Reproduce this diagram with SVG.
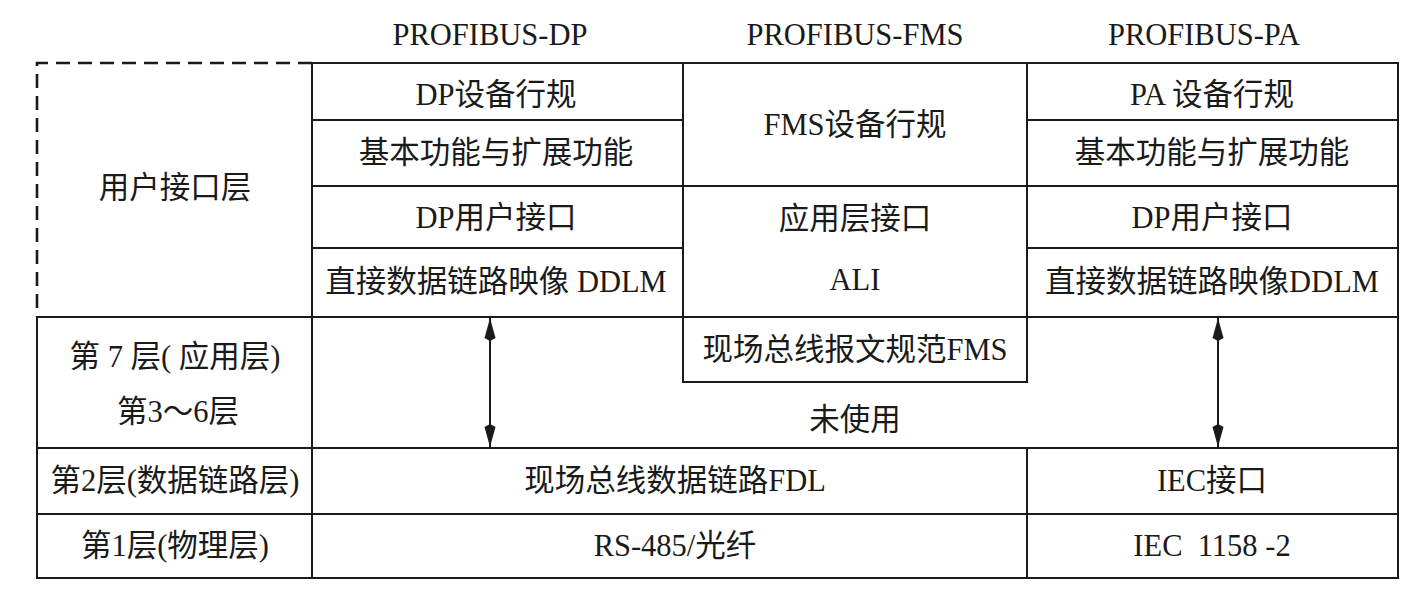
<svg xmlns="http://www.w3.org/2000/svg" width="1422" height="598" viewBox="0 0 1422 598">
<defs>
<style>
.c{fill:none;stroke:#1a1a1a;stroke-width:2}
.d{fill:none;stroke:#1a1a1a;stroke-width:2.6;stroke-dasharray:14 8}
text{font-family:"Liberation Serif","Noto Sans CJK SC",serif;font-size:30.5px;fill:#1a1a1a;text-anchor:middle;dominant-baseline:central}
.pre{white-space:pre}
.a{stroke:#1a1a1a;stroke-width:2;fill:none}
</style>
<marker id="ah" markerUnits="userSpaceOnUse" markerWidth="24" markerHeight="12" viewBox="0 0 24 12" refX="23" refY="6" orient="auto-start-reverse">
<path d="M0,6 L3,0.5 L23,6 L3,11.5 Z" fill="#1a1a1a"/>
</marker>
</defs>
<rect width="1422" height="598" fill="#fff"/>

<g id="hdr-dp"><text x="490" y="35">PROFIBUS-DP</text></g>
<g id="hdr-fms"><text x="855" y="35">PROFIBUS-FMS</text></g>
<g id="hdr-pa"><text x="1204" y="35">PROFIBUS-PA</text></g>

<g id="user-layer"><path class="d" d="M312,63 H37 V317"/><text x="175" y="188">用户接口层</text></g>

<g id="dp-profile"><rect class="c" x="312" y="63" width="371" height="57"/><text x="496" y="95">DP设备行规</text></g>
<g id="dp-basic"><rect class="c" x="312" y="120" width="371" height="66"/><text x="496" y="153">基本功能与扩展功能</text></g>
<g id="dp-ui"><rect class="c" x="312" y="186" width="371" height="62"/><text x="496" y="218">DP用户接口</text></g>
<g id="dp-ddlm"><rect class="c" x="312" y="248" width="371" height="69"/><text x="496" y="282">直接数据链路映像 DDLM</text></g>

<g id="fms-profile"><rect class="c" x="683" y="63" width="344" height="123"/><text x="855" y="125">FMS设备行规</text></g>
<g id="fms-ali"><rect class="c" x="683" y="186" width="344" height="131"/><text x="855" y="219">应用层接口</text><text x="855" y="280">ALI</text></g>

<g id="pa-profile"><rect class="c" x="1027" y="63" width="371" height="57"/><text x="1212" y="95">PA 设备行规</text></g>
<g id="pa-basic"><rect class="c" x="1027" y="120" width="371" height="66"/><text x="1212" y="153">基本功能与扩展功能</text></g>
<g id="pa-ui"><rect class="c" x="1027" y="186" width="371" height="62"/><text x="1212" y="218">DP用户接口</text></g>
<g id="pa-ddlm"><rect class="c" x="1027" y="248" width="371" height="69"/><text x="1212" y="282">直接数据链路映像DDLM</text></g>

<g id="l7-label"><rect class="c" x="37" y="317" width="275" height="131"/><text x="175" y="357">第 7 层( 应用层)</text><text x="178" y="412">第3～6层</text></g>
<g id="unused"><rect class="c" x="312" y="317" width="1086" height="131"/><text x="855" y="420">未使用</text></g>
<g id="fms-msg"><rect class="c" x="683" y="317" width="344" height="65"/><text x="855" y="350">现场总线报文规范FMS</text></g>

<g id="l2-label"><rect class="c" x="37" y="448" width="275" height="66"/><text x="175" y="481">第2层(数据链路层)</text></g>
<g id="fdl"><rect class="c" x="312" y="448" width="715" height="66"/><text x="675" y="481">现场总线数据链路FDL</text></g>
<g id="iec-if"><rect class="c" x="1027" y="448" width="371" height="66"/><text x="1212" y="481">IEC接口</text></g>

<g id="l1-label"><rect class="c" x="37" y="514" width="275" height="64"/><text x="175" y="546">第1层(物理层)</text></g>
<g id="rs485"><rect class="c" x="312" y="514" width="715" height="64"/><text x="675" y="546">RS-485/光纤</text></g>
<g id="iec1158"><rect class="c" x="1027" y="514" width="371" height="64"/><text class="pre" x="1212" y="546" xml:space="preserve">IEC  1158 -2</text></g>

<g id="connectors">
<line class="a" x1="490" y1="318" x2="490" y2="447" marker-start="url(#ah)" marker-end="url(#ah)"/>
<line class="a" x1="1218" y1="318" x2="1218" y2="447" marker-start="url(#ah)" marker-end="url(#ah)"/>
</g>
</svg>
